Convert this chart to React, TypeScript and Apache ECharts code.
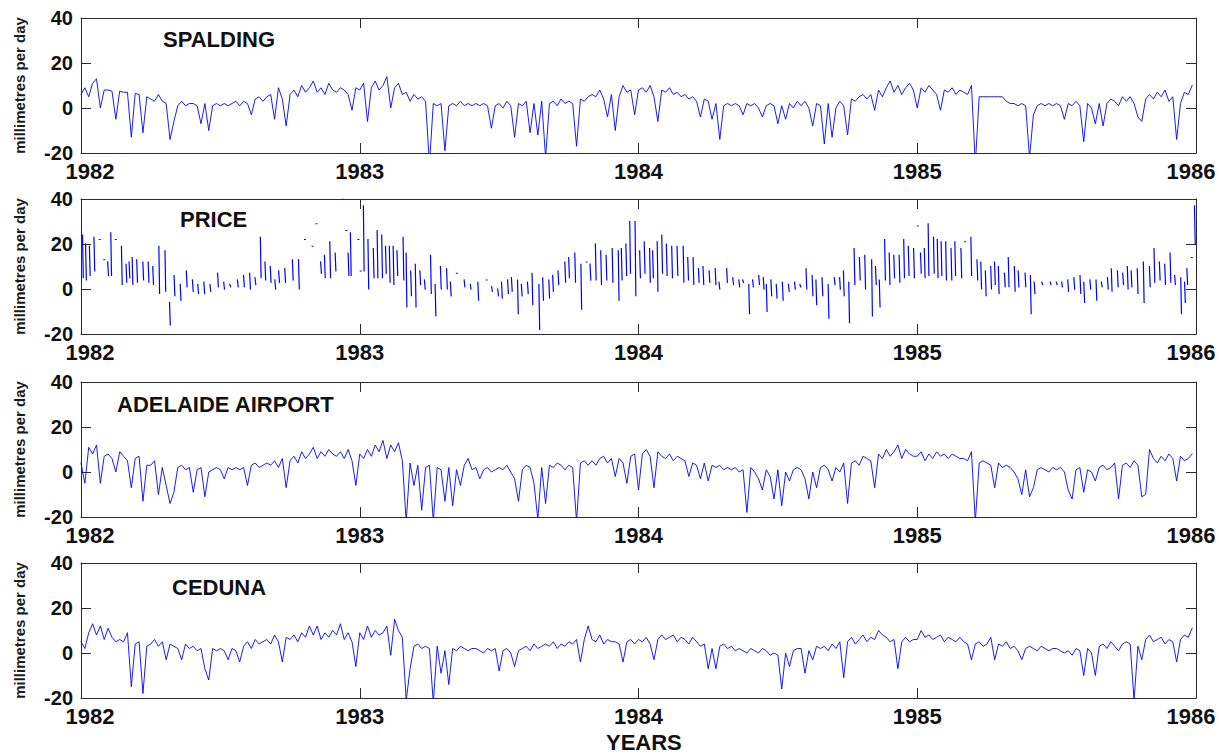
import React, { useEffect, useRef } from "react";
import * as echarts from "echarts";

const FONT = "'Liberation Sans', Arial, Helvetica, sans-serif";
const STATIONS = ["SPALDING", "PRICE", "ADELAIDE AIRPORT", "CEDUNA"];
const YEAR_MIN = 1982;
const YEAR_MAX = 1986;
const Y_MIN = -20;
const Y_MAX = 40;
const SAMPLES_PER_YEAR = 72; // six readings per month

// SPALDING, one row per month (1982..1985)
const spalding = [
  6, 9, 5, 11, 13, 0, 8, 8, 7.5, -5, 7.5, 7, 7, -13, 6.5, 6, -11, 5, 4, 3, 6, 3, 2, -14,
  -6, 1, 3, 1, 2, 2, 1, -7, 2, -10, 1, 2, 1, 2, 1, 2, 3, 1, 3, 2, -3, 4, 5, 3,
  5, 6, -5, 9, 4, -8, 6, 8, 5, 10, 7, 9, 12, 7, 9, 6, 11, 8, 7, 9, 8, 6, -1, 9,
  8, 11, -6, 9, 12, 8, 10, 14, 0, 9, 11, 6, 7, 3, 6, 4, 5, 3, -25, 2, 1, 2, -19, 1,
  2, 1, 3, 1, 2, 1, 2, 1, 2, 1, -9, 1, 2, 0, 3, 1, -13, 2, 1, 3, -11, 2, -12, 3,
  -22, 2, 3, 1, 4, 2, 3, 2, -17, 4, 3, 5, 6, 5, 8, 4, -4, 6, -10, 5, 10, 7, 8, -3,
  8, 9, 7, 10, 5, -6, 8, 7, 9, 6, 7, 5, 6, 4, 5, 3, -4, 4, 3, -5, 2, -14, 1, 2,
  1, 2, 1, -3, 2, 1, 2, 0, -4, 1, 2, 1, -7, 1, -5, 2, 0, 3, 1, 3, 0, -8, 2, 1,
  -16, 2, -13, 0, 3, 1, -12, 4, 3, 5, 6, 4, 6, -1, 8, 5, 9, 12, 7, 10, 6, 9, 11, 8,
  0, 9, 7, 10, 8, 6, -1, 8, 7, 9, 6, 8, 7, 6, 10, -25, 5, 5, 5, 5, 5, 5, 5, 3,
  2, 2, 1, 2, 1, -22, -3, 1, 2, 1, 2, 1, 2, 1, -5, 2, 1, 3, 1, -15, 2, 0, -7, 2,
  -8, 2, 4, 3, 1, 5, 3, 5, 2, -4, -6, 4, 6, 4, 7, 5, 8, 3, 5, -14, 2, 7, 6, 10,
];

// ADELAIDE AIRPORT
const adelaide = [
  4, -5, 11, 8, 12, -5, 7, 8, 6, 0, 9, 7, 5, -7, 6, 7, -13, 3, 3, 5, -10, 2, -6, -14,
  -9, 2, 3, 1, 2, -9, 1, 2, -11, 0, 1, 2, 1, -3, 2, 1, 2, 1, 2, -6, 3, 4, 2, 3,
  4, 3, 5, 2, 6, -7, 5, 7, 4, 9, 6, 8, 11, 6, 9, 7, 10, 8, 7, 9, 6, 10, 5, -6,
  8, 6, 10, 7, 12, 9, 14, 6, 12, 9, 13, 5, -22, 4, -6, 3, -17, 2, 3, -22, 2, 1, -13, 2,
  -15, 1, -6, 3, 6, 1, 2, -3, 1, 2, 0, 1, 2, 1, 3, 0, -3, -13, 1, 3, 2, -5, -21, 2,
  -14, 3, 2, 4, 3, 1, 3, 2, -22, 4, 5, 3, 5, 3, 6, 7, 4, 6, -2, 6, 4, -5, 7, 8,
  -8, 8, 10, 7, -7, 9, 7, 6, 8, 5, 7, 6, 5, -2, 4, 3, -3, 4, -4, 3, 2, 3, 1, 2,
  1, 2, 0, 1, -18, 2, 0, -3, -8, 1, -2, -12, 1, -15, 0, -4, 1, 2, 1, -3, -12, 0, -7, 2,
  3, 1, -4, 2, 0, 4, -14, 4, 5, 3, 7, 6, 5, -7, 8, 6, 10, 7, 9, 12, 6, 10, 8, 7,
  7, 9, 5, 8, 6, 9, 7, 8, 6, 8, 7, 6, 6, 5, 9, -22, 4, 5, 4, 3, -7, 4, 2, 3,
  2, 0, -3, -10, 1, -11, -7, 1, 2, 1, 0, 2, 1, 2, 0, -8, -12, 1, 2, -9, 1, 0, -4, 2,
  3, 1, 2, 4, -12, 3, 4, 2, 5, 3, -11, -10, 10, 6, 4, 7, 5, 8, 6, -4, 7, 5, 6, 8,
];

// CEDUNA
const ceduna = [
  5, 2, 9, 13, 8, 12, 6, 11, 7, 5, 6, 5, 9, -15, 4, 5, -18, 3, 4, 6, 3, 5, -3, 4,
  3, 2, -3, 4, 2, 3, 1, 2, -7, -12, 2, 1, 2, 1, -3, 2, 1, -4, 3, 5, 2, 6, 4, 5,
  6, 4, 8, 5, -4, 7, 6, 8, 5, 9, 7, 12, 8, 12, 6, 9, 7, 10, 8, 13, 6, 9, 5, -6,
  9, 6, 12, 7, 10, 8, 9, 12, -1, 15, 10, 7, -21, -7, 3, 4, 2, 3, 2, -22, 3, -9, 1, -14,
  2, 1, 3, 2, 1, 2, 2, 1, 0, 2, 1, 2, -8, 1, 2, 0, -6, 1, 2, 3, 1, 4, 2, 3,
  4, 3, 5, 2, 4, 3, 5, 4, 6, -4, 6, 12, 6, 5, 8, 4, 6, 5, 5, 4, -4, 5, 6, 4,
  6, 5, 7, 4, -3, 6, 8, 6, 7, 8, 5, 7, 6, 4, 7, 5, 3, 4, -7, 2, -7, 3, 4, 2,
  3, 1, 2, 1, 0, 2, 1, 0, 2, 1, -1, 0, -1, -16, 0, -6, 1, 2, 2, -9, 1, -3, 3, 2,
  3, 1, 4, 2, 5, -11, 5, 7, 4, 6, 8, 5, 7, 6, 10, 8, 7, 5, 6, -7, 5, 7, 5, 6,
  6, 10, 7, 8, 6, 7, 8, 5, 7, 6, 5, 7, 5, 4, -3, 4, 5, 3, 4, 7, -3, 4, 3, 5,
  2, 3, 1, -3, 2, 3, 2, 1, 3, 2, 1, 2, 2, 1, 0, 1, -1, 2, 1, -10, 2, 0, -10, 3,
  4, 2, 5, 3, 1, 4, 5, 4, -21, 3, -3, 6, 8, 5, 6, 7, 4, 6, 5, -4, 6, 8, 7, 11,
];

// PRICE: sparse record, day offset from 1 Jan 1982, reading on that day and the next
const priceDay = [
  2, 6, 11, 17, 24, 30, 35, 39, 45, 53, 59, 63, 67, 73, 81, 88, 94, 102, 110, 116,
  122, 130, 138, 146, 153, 161, 169, 179, 187, 195, 205, 213, 221, 228, 235, 241, 248, 254, 259, 267,
  277, 285, 293, 303, 308, 314, 319, 326, 333, 342, 347, 350, 353, 363, 366, 370, 376, 383, 388, 394,
  399, 404, 409, 414, 422, 426, 432, 438, 444, 450, 458, 464, 471, 479, 484, 492, 502, 510, 520, 531,
  538, 546, 551, 559, 564, 572, 577, 585, 591, 600, 605, 613, 618, 625, 634, 639, 647, 655, 662, 667,
  674, 681, 688, 696, 704, 708, 714, 719, 726, 732, 738, 745, 749, 755, 761, 767, 774, 781, 789, 795,
  802, 809, 815, 823, 831, 836, 846, 854, 862, 867, 875, 880, 888, 894, 898, 904, 911, 919, 927, 935,
  942, 950, 958, 963, 971, 979, 987, 994, 999, 1006, 1013, 1020, 1027, 1036, 1041, 1046, 1053, 1059, 1065, 1072,
  1078, 1084, 1091, 1096, 1100, 1105, 1110, 1117, 1122, 1127, 1133, 1140, 1145, 1153, 1158, 1166, 1174, 1179, 1185, 1192,
  1197, 1202, 1210, 1215, 1223, 1228, 1237, 1244, 1249, 1259, 1270, 1278, 1285, 1293, 1301, 1309, 1314, 1322, 1330, 1337,
  1345, 1350, 1358, 1365, 1371, 1376, 1384, 1392, 1400, 1406, 1413, 1420, 1427, 1433, 1441, 1446, 1449, 1455, 1459,
];
const priceHigh = [
  24, 20, 19, 23, 22, 13, 12, 25, 22, 19, 11, 12, 14, 13, 12, 12, 10, 19, 17, -6,
  6, 2, 8, 4, 2, 3, 2, 7, 3, 2, 4, 6, 7, 5, 23, 12, 10, 4, 8, 9,
  13, 13, 22, 19, 29, 12, 15, 21, 16, 40, 26, 16, 25, 22, 8, 37, 22, 18, 26, 24,
  19, 19, 19, 17, 23, 16, 8, 11, 8, 4, 15, 2, 10, 9, 3, 7, 4, 2, 3, 4,
  1, 0, 3, 4, 5, 4, 2, 3, 7, 2, 5, 4, 6, 8, 12, 14, 16, 11, 12, 11,
  20, 17, 15, 18, 17, 18, 20, 30, 30, 17, 21, 18, 17, 21, 24, 20, 19, 19, 19, 14,
  14, 9, 10, 8, 9, 3, 9, 5, 4, 4, 2, 4, 6, 5, 2, 4, 2, 3, 2, 3,
  2, 9, 6, 4, 5, 2, 5, 5, 8, 3, 18, 14, 15, 13, 10, 4, 22, 16, 15, 15,
  22, 19, 18, 28, 16, 18, 29, 23, 22, 21, 21, 18, 21, 18, 21, 23, 13, 12, 8, 10,
  12, 10, 7, 14, 10, 8, 7, 6, 3, 3, 3, 3, 3, 4, 5, 6, 3, 4, 4, 3,
  5, 9, 8, 7, 10, 8, 9, 12, 10, 18, 12, 11, 16, 6, 5, 3, 9, 14, 37,
];
const priceLow = [
  5, 4, 6, 8, 22, 13, 6, 6, 22, 2, 3, 5, 2, 3, 4, 3, 2, -2, -1, -16,
  -3, -5, 1, -1, -2, -2, -1, 1, 0, 1, 1, 1, 0, 2, 5, 4, 3, 0, 3, 3,
  4, 0, 22, 19, 29, 7, 5, 5, 8, 40, 26, 6, 6, 22, 8, 8, 0, 5, 5, 5,
  7, 3, 2, 6, 4, -8, -3, -8, 2, 0, -2, -12, 0, 0, -3, 7, 1, 0, -5, 4,
  -1, -3, -4, -2, -1, -11, -3, -2, -7, -18, -5, -4, -1, 2, 3, 5, 3, -9, 12, 4,
  4, 2, 4, 3, -5, 4, 6, 7, -3, 5, 7, 3, 5, -1, 7, 6, 5, 6, 3, 4,
  2, 3, 2, 3, 2, 0, 3, 2, 1, 3, -11, 1, 2, 0, -10, -3, -4, -5, -1, 0,
  1, 0, -3, -7, -3, -13, 2, 0, -3, -15, 2, 4, 0, -12, 2, -8, 4, 2, 5, 3,
  5, 6, 5, 28, 7, 5, 6, 7, 5, 6, 4, 4, 6, 5, 21, 6, 4, 0, -3, 0,
  2, -2, 1, 1, -1, 1, 1, -11, -2, 2, 2, 2, 1, -1, 0, -2, -6, 0, -5, 1,
  0, -1, 1, 2, 0, 1, -2, -6, 1, 3, 4, 2, 3, 2, -11, -6, 2, 14, 20,
];

const TOPS = [18, 199, 382, 563];
const PLOT_LEFT = 81;
const PLOT_WIDTH = 1115;
const PLOT_HEIGHT = 135;
const TITLE_POS = [
  [163, 28],
  [180, 208],
  [117, 393],
  [172, 576],
];

function regularSeries(values: number[]) {
  return values.map((v, i) => [YEAR_MIN + i / SAMPLES_PER_YEAR, v]);
}

function priceSeries() {
  const out: any[] = [];
  priceDay.forEach((d, k) => {
    const x0 = YEAR_MIN + d / 365.25;
    const x1 = YEAR_MIN + (d + 1) / 365.25;
    out.push([x0, priceHigh[k]], [x1, priceLow[k]], [x1, null]);
  });
  return out;
}

function buildOption() {
  const frameColor = "#2b2b2b";
  const labelStyle = { fontSize: 22, fontWeight: "bold" as const, fontFamily: FONT, color: "#111" };
  const grid: any[] = [];
  const xAxis: any[] = [];
  const yAxis: any[] = [];
  const series: any[] = [];
  const datasets = [regularSeries(spalding), priceSeries(), regularSeries(adelaide), regularSeries(ceduna)];

  TOPS.forEach((top, i) => {
    grid.push({ left: PLOT_LEFT, top, width: PLOT_WIDTH, height: PLOT_HEIGHT, containLabel: false });
    const baseX = {
      gridIndex: i,
      type: "value",
      min: YEAR_MIN,
      max: YEAR_MAX,
      interval: 1,
      splitLine: { show: false },
      axisLine: { show: true, onZero: false, lineStyle: { color: frameColor, width: 1 } },
      axisTick: { show: true, inside: true, length: 10, lineStyle: { color: frameColor, width: 1 } },
    };
    xAxis.push({
      ...baseX,
      position: "bottom",
      axisLabel: {
        ...labelStyle,
        margin: 7,
        formatter: (v: number) =>
          v === YEAR_MIN ? `{a|${v}}` : v === YEAR_MAX ? `{b|${v}}` : String(v),
        rich: {
          a: { ...labelStyle, padding: [0, 0, 0, 18] },
          b: { ...labelStyle, padding: [0, 10, 0, 0] },
        },
      },
    });
    xAxis.push({ ...baseX, position: "top", axisLabel: { show: false } });
    const baseY = {
      gridIndex: i,
      type: "value",
      min: Y_MIN,
      max: Y_MAX,
      interval: 20,
      splitLine: { show: false },
      axisLine: { show: true, onZero: false, lineStyle: { color: frameColor, width: 1 } },
      axisTick: { show: true, inside: true, length: 10, lineStyle: { color: frameColor, width: 1 } },
    };
    yAxis.push({
      ...baseY,
      position: "left",
      axisLabel: { fontSize: 20, fontWeight: "bold", fontFamily: FONT, color: "#111", margin: 8 },
      name: "millimetres per day",
      nameLocation: "middle",
      nameGap: 54,
      nameTextStyle: { fontSize: 15, fontWeight: "bold", fontFamily: FONT, color: "#1a1a1a" },
    });
    yAxis.push({ ...baseY, position: "right", axisLabel: { show: false } });
    series.push({
      type: "line",
      name: STATIONS[i],
      xAxisIndex: 2 * i,
      yAxisIndex: 2 * i,
      data: datasets[i],
      symbol: "none",
      showSymbol: false,
      connectNulls: false,
      clip: true,
      lineStyle: { color: "#0000ff", width: i === 1 ? 1.2 : 0.9, cap: "square" },
      emphasis: { disabled: true },
    });
  });

  const graphic: any[] = STATIONS.map((name, i) => ({
    type: "text",
    left: TITLE_POS[i][0],
    top: TITLE_POS[i][1],
    style: { text: name, font: `bold 22px ${FONT}`, fill: "#111" },
  }));
  graphic.push({
    type: "text",
    left: 606,
    top: 731,
    style: { text: "YEARS", font: `bold 22px ${FONT}`, fill: "#111" },
  });

  return {
    animation: false,
    backgroundColor: "#ffffff",
    grid,
    xAxis,
    yAxis,
    series,
    graphic,
  };
}

export default function App() {
  const ref = useRef<HTMLDivElement>(null);
  useEffect(() => {
    if (!ref.current) return;
    const chart = echarts.init(ref.current, null, { renderer: "svg" });
    chart.setOption(buildOption());
    return () => chart.dispose();
  }, []);
  return (
    <div
      ref={ref}
      style={{ position: "absolute", left: 0, top: 0, width: 1219, height: 756, background: "#fff" }}
    />
  );
}
